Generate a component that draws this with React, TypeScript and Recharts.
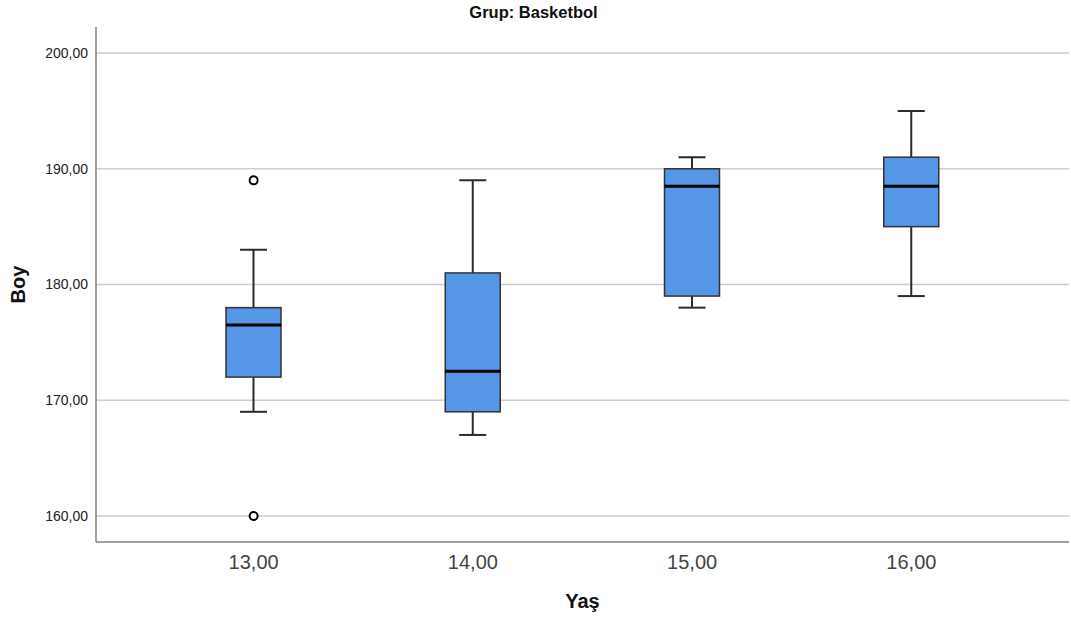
import React from 'react';
import { ComposedChart, Bar, Scatter, XAxis, YAxis, ReferenceLine } from 'recharts';

const categories = ['13,00', '14,00', '15,00', '16,00'];
const lows = [169, 167, 178, 179];
const q1s = [172, 169, 179, 185];
const medians = [176.5, 172.5, 188.5, 188.5];
const q3s = [178, 181, 190, 191];
const highs = [183, 189, 191, 195];
const outliersHigh: (number | null)[] = [189, null, null, null];
const outliersLow: (number | null)[] = [160, null, null, null];
const yTicks = [160, 170, 180, 190, 200];

const data = categories.map((age, i) => ({
  age,
  lowerWhisker: [lows[i], q1s[i]],
  box: [q1s[i], q3s[i]],
  upperWhisker: [q3s[i], highs[i]],
  median: medians[i],
  outHi: outliersHigh[i],
  outLo: outliersLow[i],
}));

const BOX_W = 55;
const CAP_W = 27;
const BOX_FILL = '#5596e6';
const LINE = '#2b2b2b';

const span = (y: number, h: number) => [Math.min(y, y + h), Math.max(y, y + h)];

const LowerWhiskerShape = (p: any) => {
  const [top, bottom] = span(p.y, p.height);
  const cx = p.x + p.width / 2;
  return (
    <g>
      <line x1={cx} x2={cx} y1={top} y2={bottom} stroke={LINE} strokeWidth={2} />
      <line x1={cx - CAP_W / 2} x2={cx + CAP_W / 2} y1={bottom} y2={bottom} stroke={LINE} strokeWidth={2} />
    </g>
  );
};

const UpperWhiskerShape = (p: any) => {
  const [top, bottom] = span(p.y, p.height);
  const cx = p.x + p.width / 2;
  return (
    <g>
      <line x1={cx} x2={cx} y1={top} y2={bottom} stroke={LINE} strokeWidth={2} />
      <line x1={cx - CAP_W / 2} x2={cx + CAP_W / 2} y1={top} y2={top} stroke={LINE} strokeWidth={2} />
    </g>
  );
};

const BoxShape = (p: any) => {
  const [top, bottom] = span(p.y, p.height);
  return (
    <rect x={p.x} y={top} width={p.width} height={bottom - top} fill={BOX_FILL} stroke="#333" strokeWidth={1.5} />
  );
};

const MedianShape = (p: any) => {
  if (p.cx == null || p.cy == null || isNaN(p.cy)) return <g />;
  return <line x1={p.cx - BOX_W / 2} x2={p.cx + BOX_W / 2} y1={p.cy} y2={p.cy} stroke="#000" strokeWidth={3} />;
};

const makeOutlierShape = (key: string) => (p: any) => {
  if (!p.payload || p.payload[key] == null || isNaN(p.cy)) return <g />;
  return <circle cx={p.cx} cy={p.cy} r={4} fill="#fff" stroke="#000" strokeWidth={2} />;
};

const fmt = (v: number) => v.toFixed(2).replace('.', ',');

const YLabel = (props: any) => {
  const vb = props.viewBox || { x: 0, y: 27, width: 96, height: 515 };
  const x = vb.x + 18;
  const y = vb.y + vb.height / 2;
  return (
    <text x={x} y={y} transform={`rotate(-90, ${x}, ${y})`} textAnchor="middle" dominantBaseline="central"
      fontSize={20} fontWeight="bold" fill="#111">Boy</text>
  );
};

const XLabel = (props: any) => {
  const vb = props.viewBox || { x: 96, y: 542, width: 973, height: 0 };
  return (
    <text x={vb.x + vb.width / 2} y={vb.y + 66} textAnchor="middle" fontSize={20} fontWeight="bold" fill="#111">Yaş</text>
  );
};

export default function App() {
  const pad = { left: 48, right: 48 };
  const zProps: any = { zIndex: -100 };
  return (
    <div style={{ position: 'absolute', left: 0, top: 0, width: 1071, height: 618, background: '#fff', fontFamily: '"Liberation Sans", Arial, sans-serif' }}>
      <div style={{ position: 'absolute', left: 0, top: 1, width: 1067, textAlign: 'center', fontSize: 16.5, fontWeight: 'bold', color: '#111', lineHeight: '22px' }}>
        Grup: Basketbol
      </div>
      <ComposedChart width={1071} height={618} data={data} margin={{ top: 27, right: 2, bottom: 46, left: 0 }}>
        {yTicks.map((t) => (
          <ReferenceLine key={t} y={t} xAxisId="main" stroke="#cdcdcd" strokeWidth={1.5} {...zProps} />
        ))}
        <XAxis dataKey="age" type="category" xAxisId="main" padding={pad} tickLine={false} height={30}
          axisLine={{ stroke: '#808080', strokeWidth: 1.5 }} tick={{ fontSize: 20, fill: '#444' }} tickMargin={7}
          label={<XLabel />} />
        <XAxis dataKey="age" type="category" xAxisId="w1" padding={pad} hide />
        <XAxis dataKey="age" type="category" xAxisId="w2" padding={pad} hide />
        <YAxis type="number" domain={[157.75, 202.25]} ticks={yTicks} allowDataOverflow width={96}
          tickFormatter={fmt} tickLine={false} axisLine={{ stroke: '#808080', strokeWidth: 1.5 }}
          tick={{ fontSize: 14, fill: '#222' }} label={<YLabel />} />
        <Bar xAxisId="w1" dataKey="lowerWhisker" barSize={BOX_W} shape={LowerWhiskerShape} isAnimationActive={false} />
        <Bar xAxisId="w2" dataKey="upperWhisker" barSize={BOX_W} shape={UpperWhiskerShape} isAnimationActive={false} />
        <Bar xAxisId="main" dataKey="box" barSize={BOX_W} shape={BoxShape} isAnimationActive={false} />
        <Scatter xAxisId="main" dataKey="median" shape={MedianShape} isAnimationActive={false} />
        <Scatter xAxisId="main" dataKey="outHi" shape={makeOutlierShape('outHi')} isAnimationActive={false} />
        <Scatter xAxisId="main" dataKey="outLo" shape={makeOutlierShape('outLo')} isAnimationActive={false} />
      </ComposedChart>
    </div>
  );
}
